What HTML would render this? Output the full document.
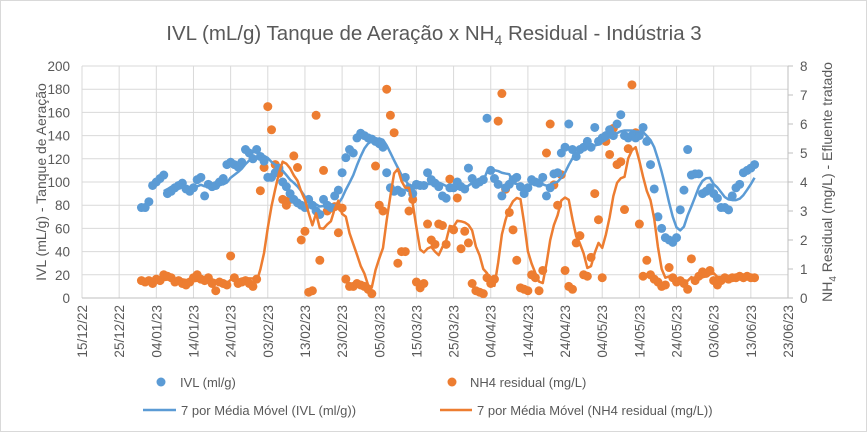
<!DOCTYPE html>
<html><head><meta charset="utf-8">
<style>
body{margin:0;background:#fff;}
svg{display:block;font-family:"Liberation Sans",sans-serif;}
</style></head>
<body>
<svg id="chart" width="868" height="433" xmlns="http://www.w3.org/2000/svg">
<rect x="0.5" y="0.5" width="866" height="431" fill="#fff" stroke="#d9d9d9"/>
<text x="434" y="40" text-anchor="middle" font-size="20.5" fill="#595959">IVL (mL/g) Tanque de Aeração x NH<tspan font-size="14" dy="5">4</tspan><tspan dy="-5"> Residual - Indústria 3</tspan></text>
<text transform="translate(46,182) rotate(-90)" text-anchor="middle" font-size="14" fill="#595959">IVL (mL/g) - Tanque de Aeração</text>
<text transform="translate(832,182) rotate(-90)" text-anchor="middle" font-size="14" fill="#595959">NH<tspan font-size="10" dy="4">4</tspan><tspan dy="-4"> Residual (mg/L) - Efluente tratado</tspan></text>
<g id="grid"></g><g id="marks"></g><g id="ticks"></g>
<g>
<circle cx="161" cy="382" r="4.5" fill="#5B9BD5"/>
<text x="180" y="387" font-size="13" fill="#595959">IVL  (ml/g)</text>
<circle cx="452" cy="382" r="4.5" fill="#ED7D31"/>
<text x="470" y="387" font-size="13" fill="#595959">NH4 residual (mg/L)</text>
<line x1="143" y1="410" x2="176" y2="410" stroke="#5B9BD5" stroke-width="2.5"/>
<text x="181" y="415" font-size="13" fill="#595959">7 por Média Móvel (IVL  (ml/g))</text>
<line x1="440" y1="410" x2="472" y2="410" stroke="#ED7D31" stroke-width="2.5"/>
<text x="477" y="415" font-size="13" fill="#595959">7 por Média Móvel (NH4 residual (mg/L))</text>
</g>
</svg>
<script>
const startDay = 16; // 31/12/22 as days after 15/12/22
const xTickLabels = ["15/12/22","25/12/22","04/01/23","14/01/23","24/01/23","03/02/23","13/02/23","23/02/23","05/03/23","15/03/23","25/03/23","04/04/23","14/04/23","24/04/23","04/05/23","14/05/23","24/05/23","03/06/23","13/06/23","23/06/23"];
const leftTicks = [0,20,40,60,80,100,120,140,160,180,200];
const rightTicks = [0,1,2,3,4,5,6,7,8];
const ivl = [78,78,83,97,100,103,106,90,92,95,97,99,94,92,95,102,104,88,98,96,97,100,103,115,117,115,113,117,128,125,120,128,122,118,104,104,108,112,100,96,90,85,82,80,78,85,80,75,72,85,80,78,88,93,108,121,128,125,138,142,140,138,137,135,133,130,108,95,92,93,91,104,95,90,98,97,97,108,102,99,96,88,86,95,95,100,96,94,112,103,98,100,102,155,110,103,98,88,95,98,102,104,96,90,95,102,100,99,104,88,95,107,108,125,130,150,128,122,128,130,135,130,147,135,138,140,145,140,150,158,140,138,140,138,140,147,135,115,94,70,60,52,50,48,52,76,93,128,106,107,107,90,92,95,90,86,78,78,76,88,95,98,108,110,112,115];
const nh4 = [0.6,0.55,0.6,0.5,0.65,0.6,0.8,0.75,0.7,0.55,0.6,0.5,0.45,0.55,0.7,0.8,0.65,0.6,0.7,0.5,0.25,0.55,0.5,0.45,1.45,0.7,0.5,0.55,0.6,0.5,0.4,0.65,3.7,4.5,6.6,5.8,4.6,4.3,3.4,3.2,3.4,4.9,4.5,2.0,2.3,0.2,0.25,6.3,1.3,4.4,3.0,3.1,3.15,2.25,3.1,0.65,0.4,0.4,0.5,0.45,0.4,0.3,0.15,4.55,3.2,3.0,7.2,6.3,5.7,1.2,1.6,1.6,3.0,3.4,0.55,0.35,0.5,2.55,2.0,1.85,2.55,2.5,1.85,4.1,2.35,3.45,1.7,2.3,1.9,0.5,0.25,0.2,0.15,0.7,0.5,0.65,6.1,7.05,3.75,2.95,2.35,1.3,0.35,0.3,0.25,0.8,0.7,0.25,0.95,5.0,6.0,3.9,3.2,4.25,0.95,0.4,0.3,1.9,2.15,0.8,0.75,1.4,3.6,2.7,0.7,5.4,4.95,5.85,4.6,4.7,3.05,5.15,7.35,5.7,2.55,0.75,1.3,0.8,0.65,0.55,0.4,0.45,1.05,0.7,0.55,0.6,0.5,0.3,1.35,0.6,0.75,0.9,0.85,0.95,0.6,0.45,0.6,0.7,0.65,0.7,0.7,0.75,0.7,0.75,0.7,0.7];

const X0=82, X1=788, Y0=298, Y1=66, DAYS=190;
const xS = d => X0 + d*(X1-X0)/DAYS;
const yL = v => Y0 - v*(Y0-Y1)/200;
const yR = v => Y0 - v*(Y0-Y1)/8;
const NS="http://www.w3.org/2000/svg";
function mk(tag, attrs, parent){const e=document.createElementNS(NS,tag);for(const k in attrs)e.setAttribute(k,attrs[k]);parent.appendChild(e);return e;}
const grid=document.getElementById('grid'), marks=document.getElementById('marks'), ticks=document.getElementById('ticks');

leftTicks.forEach((v,i)=>{
  const l=mk('line',{x1:X0,x2:X1,y1:yL(v),y2:yL(v),stroke:'#d9d9d9','stroke-width':1},grid);
  
  
  const t=mk('text',{x:X0-12,y:yL(v)+5,'text-anchor':'end','font-size':13.5,fill:'#595959'},ticks);
  t.textContent=v;
  
  
});
rightTicks.forEach(v=>{
  const t=mk('text',{x:X1+12,y:yR(v)+5,'text-anchor':'start','font-size':13.5,fill:'#595959'},ticks);
  t.textContent=v;
  
  
  const tk=mk('line',{x1:X1,x2:X1+5,y1:yR(v),y2:yR(v),stroke:'#bfbfbf'},ticks);
  
  
});
xTickLabels.forEach((s,i)=>{
  const x=xS(i*10);
  const l=mk('line',{x1:x,x2:x,y1:Y1,y2:Y0,stroke:'#d9d9d9','stroke-width':1},grid);
  
  
  const t=mk('text',{transform:`translate(${x+5},${Y0+7}) rotate(-90)`,'text-anchor':'end','font-size':13.5,fill:'#595959'},ticks);
  t.textContent=s;
  
  
});
const ax=mk('line',{x1:X0,x2:X1,y1:Y0,y2:Y0,stroke:'#bfbfbf'},grid);


const ax2=mk('line',{x1:X1,x2:X1,y1:Y1,y2:Y0,stroke:'#bfbfbf'},grid);



function movAvg(arr){const r=[];for(let i=6;i<arr.length;i++){let s=0;for(let j=i-6;j<=i;j++)s+=arr[j];r.push([i,s/7]);}return r;}

nh4.forEach((v,i)=>{
  const c=mk('circle',{cx:xS(startDay+i),cy:yR(v),r:4.5,fill:'#ED7D31'},marks);
  
  
});
ivl.forEach((v,i)=>{
  const c=mk('circle',{cx:xS(startDay+i),cy:yL(v),r:4.5,fill:'#5B9BD5'},marks);
  
  
});
const ivlMA=movAvg(ivl), nhMA=movAvg(nh4);
const p1=mk('polyline',{points:ivlMA.map(([i,v])=>xS(startDay+i)+','+yL(v)).join(' '),fill:'none',stroke:'#5B9BD5','stroke-width':2.5,'stroke-linejoin':'round'},marks);


const p2=mk('polyline',{points:nhMA.map(([i,v])=>xS(startDay+i)+','+yR(v)).join(' '),fill:'none',stroke:'#ED7D31','stroke-width':2.5,'stroke-linejoin':'round'},marks);


</script>
</body></html>
